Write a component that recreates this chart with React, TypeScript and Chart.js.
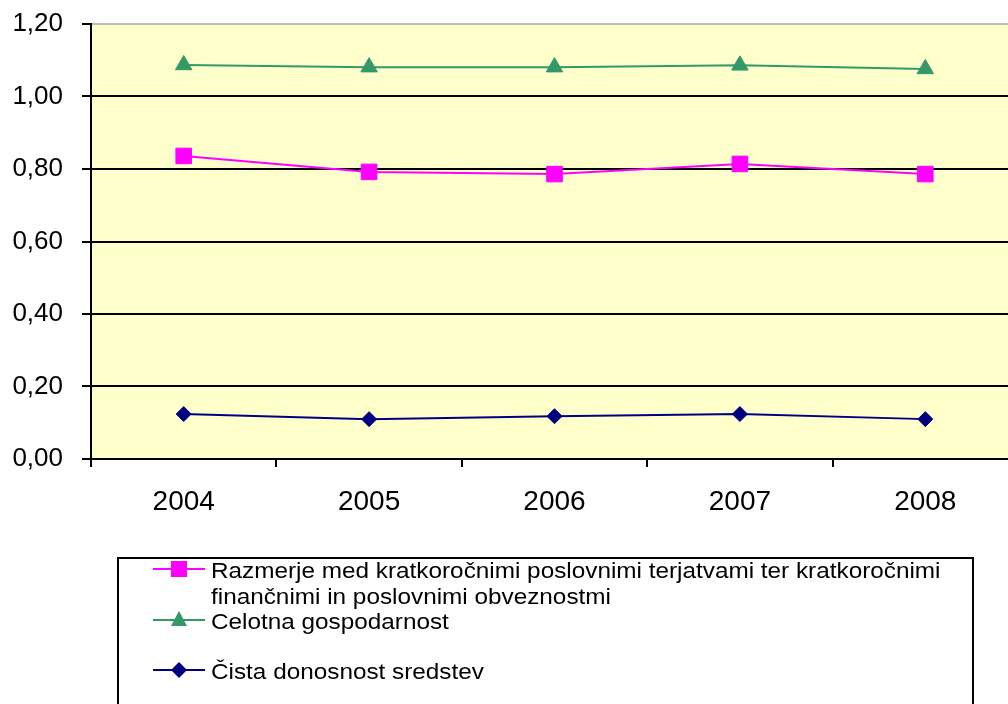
import React, { useEffect, useRef } from "react";
import { Chart, registerables } from "chart.js";

Chart.register(...registerables);

const years = ["2004", "2005", "2006", "2007", "2008"];
const razmerje = [0.836, 0.792, 0.786, 0.814, 0.786];
const gospodarnost = [1.087, 1.081, 1.081, 1.086, 1.076];
const donosnost = [0.124, 0.11, 0.118, 0.124, 0.11];
const seriesLabels = [
  "Razmerje med kratkoročnimi poslovnimi terjatvami ter kratkoročnimi finančnimi in poslovnimi obveznostmi",
  "Celotna gospodarnost",
  "Čista donosnost sredstev",
];
const yTicks = [0, 0.2, 0.4, 0.6, 0.8, 1.0, 1.2];

const FONT = '"Liberation Sans", Arial, sans-serif';

const bgPlugin = {
  id: "plotBg",
  beforeDraw(chart: any) {
    const { ctx, chartArea } = chart;
    ctx.save();
    ctx.fillStyle = "#FFFFCC";
    ctx.fillRect(chartArea.left, chartArea.top, chartArea.right - chartArea.left, chartArea.bottom - chartArea.top);
    ctx.restore();
  },
};

function wrap(ctx: CanvasRenderingContext2D, text: string, maxW: number): string[] {
  const words = text.split(" ");
  const lines: string[] = [];
  let cur = "";
  for (const w of words) {
    const t = cur ? cur + " " + w : w;
    if (ctx.measureText(t).width > maxW && cur) {
      lines.push(cur);
      cur = w;
    } else cur = t;
  }
  if (cur) lines.push(cur);
  return lines;
}

const legendPlugin = {
  id: "boxLegend",
  afterDraw(chart: any) {
    const { ctx } = chart;
    ctx.save();
    ctx.strokeStyle = "#000";
    ctx.lineWidth = 2;
    ctx.strokeRect(118, 558, 855, 170);
    ctx.font = "22px " + FONT;
    ctx.textBaseline = "middle";
    ctx.textAlign = "left";
    const sx = 1.105;
    const rowY = [569, 620, 670];
    chart.data.datasets.forEach((ds: any, i: number) => {
      const y = rowY[i];
      ctx.strokeStyle = ds.borderColor;
      ctx.lineWidth = 2;
      ctx.beginPath();
      ctx.moveTo(153, y);
      ctx.lineTo(205, y);
      ctx.stroke();
      ctx.fillStyle = ds.pointBackgroundColor;
      const cx = 179;
      ctx.beginPath();
      if (ds.pointStyle === "rect") {
        ctx.rect(cx - 8, y - 8, 16, 16);
      } else if (ds.pointStyle === "triangle") {
        ctx.moveTo(cx, y - 9);
        ctx.lineTo(cx + 8, y + 6);
        ctx.lineTo(cx - 8, y + 6);
        ctx.closePath();
      } else {
        ctx.moveTo(cx, y - 8);
        ctx.lineTo(cx + 8, y);
        ctx.lineTo(cx, y + 8);
        ctx.lineTo(cx - 8, y);
        ctx.closePath();
      }
      ctx.fill();
      ctx.fillStyle = "#000";
      const lines = wrap(ctx, ds.label, 745 / sx);
      lines.forEach((ln, k) => {
        ctx.save();
        ctx.translate(211, y + 3 + k * 26);
        ctx.scale(sx, 1);
        ctx.fillText(ln, 0, 0);
        ctx.restore();
      });
    });
    ctx.restore();
  },
};

export default function App() {
  const ref = useRef<HTMLCanvasElement>(null);
  useEffect(() => {
    if (!ref.current) return;
    const chart = new Chart(ref.current, {
      type: "line",
      data: {
        labels: years,
        datasets: [
          {
            label: seriesLabels[0],
            data: razmerje,
            borderColor: "#FF00FF",
            backgroundColor: "#FF00FF",
            pointBackgroundColor: "#FF00FF",
            pointBorderColor: "#FF00FF",
            pointStyle: "rect",
            pointRadius: 11,
            pointBorderWidth: 1,
            borderWidth: 2,
            tension: 0,
          },
          {
            label: seriesLabels[1],
            data: gospodarnost,
            borderColor: "#339966",
            backgroundColor: "#339966",
            pointBackgroundColor: "#339966",
            pointBorderColor: "#339966",
            pointStyle: "triangle",
            pointRadius: 9.5,
            pointBorderWidth: 1,
            borderWidth: 2,
            tension: 0,
          },
          {
            label: seriesLabels[2],
            data: donosnost,
            borderColor: "#000080",
            backgroundColor: "#000080",
            pointBackgroundColor: "#000080",
            pointBorderColor: "#000080",
            pointStyle: "rectRot",
            pointRadius: 7.5,
            pointBorderWidth: 1,
            borderWidth: 2,
            tension: 0,
          },
        ],
      },
      options: {
        responsive: false,
        animation: false,
        devicePixelRatio: 1,
        layout: { padding: { left: 0, top: 24, right: 12, bottom: 185 } },
        plugins: { legend: { display: false }, tooltip: { enabled: false } },
        scales: {
          x: {
            offset: true,
            grid: {
              offset: true,
              drawOnChartArea: false,
              drawTicks: true,
              tickLength: 8,
              color: "#000",
              lineWidth: 2,
            },
            border: { color: "#000", width: 2 },
            ticks: { color: "#000", font: { family: FONT, size: 28 }, padding: 18 },
            afterFit(scale: any) {
              scale.height = 60;
              scale.paddingLeft = 0;
              scale.paddingRight = 0;
            },
          },
          y: {
            min: 0,
            max: 1.2,
            afterBuildTicks(scale: any) {
              scale.ticks = yTicks.map((v) => ({ value: v }));
            },
            grid: {
              color: (c: any) => (c.tick && Math.abs(c.tick.value - 1.2) < 1e-6 ? "#BDBDBD" : "#000"),
              tickColor: "#000",
              lineWidth: 2,
              tickLength: 9,
            },
            border: { color: "#000", width: 2 },
            ticks: {
              color: "#000",
              font: { family: FONT, size: 26 },
              padding: 19,
              callback: (v: any) => Number(v).toFixed(2).replace(".", ","),
            },
            afterFit(scale: any) {
              scale.width = 91;
              scale.paddingTop = 0;
              scale.paddingBottom = 0;
            },
          },
        },
      },
      plugins: [bgPlugin, legendPlugin],
    });
    return () => chart.destroy();
  }, []);
  return (
    <div style={{ position: "fixed", left: 0, top: 0, width: 1008, height: 704, overflow: "hidden", background: "#fff" }}>
      <canvas ref={ref} width={1030} height={704} style={{ display: "block", width: 1030, height: 704 }} />
    </div>
  );
}
